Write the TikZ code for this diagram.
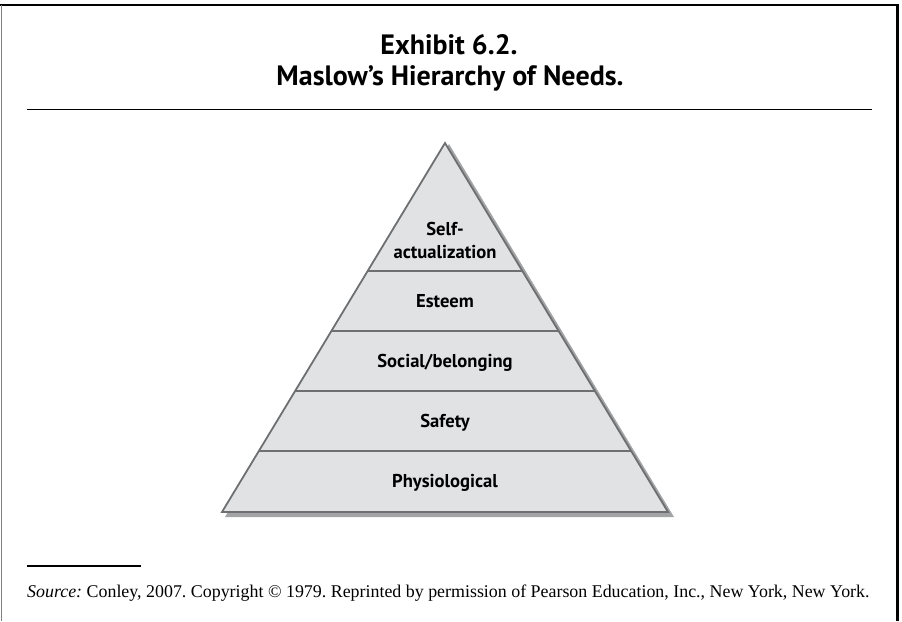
\documentclass[tikz,border=0pt]{standalone}
\usepackage{fontspec}
\setmainfont{Liberation Serif}
\setsansfont{PT Sans}
\usetikzlibrary{calc}
\definecolor{layerfill}{HTML}{E1E2E4}
\definecolor{layerline}{HTML}{6E6F71}
\definecolor{shadowgray}{HTML}{A3A4A6}
\tikzset{
    layer/.style={font=\sffamily\bfseries\fontsize{18.6}{22.5}\selectfont, align=center},
    title/.style={font=\sffamily\bfseries\fontsize{28}{30}\selectfont}
}
\begin{document}
\begin{tikzpicture}[x=1pt,y=-1pt]
        \useasboundingbox (0,0) rectangle (902,621);
        % frame
        \draw[line width=2.5pt] (0,5) -- (897.5,5) -- (897.5,621);
        \draw[gray, line width=0.8pt] (1,5) -- (1,621);
        % title
        \node[title](t1) at (449,45) {Exhibit 6.2.};
        \node[title](t2) at (450,78) {Maslow’s Hierarchy of Needs.};
        \draw[line width=1.8pt] (27,109.5) -- (872,109.5);
        % pyramid
        \coordinate(apex) at (445,143);
        \coordinate(bl) at (222,512);
        \coordinate(br) at (668,512);
        \fill[shadowgray] ($(apex)+(4,1)$) -- ($(br)+(6,5)$) -- ($(bl)+(3,5)$) -- cycle;
        \fill[layerfill] (apex) -- (br) -- (bl) -- cycle;
        \foreach \t in {0.3469,0.5095,0.6721,0.8347}
            \draw[layerline, line width=1.3pt] ($(apex)!\t!(bl)$) -- ($(apex)!\t!(br)$);
        \draw[layerline, line width=1.8pt, line join=miter] (apex) -- (br) -- (bl) -- cycle;
        \node[layer](self) at (445,240.5) {Self-\\actualization};
        \node[layer](esteem) at (445,301.5) {Esteem};
        \node[layer](social) at (445,362.5) {Social/belonging};
        \node[layer](safety) at (445,422.5) {Safety};
        \node[layer](phys) at (445,482.5) {Physiological};
        % source
        \draw[line width=1.8pt] (27,566) -- (141,566);
        \node[anchor=base west, inner sep=0pt, font=\fontsize{17.9}{20}\selectfont\frenchspacing](src) at (27,597) {\textit{Source:} Conley, 2007. Copyright © 1979. Reprinted by permission of Pearson Education, Inc., New York, New York.};
        \end{tikzpicture}
\end{document}
